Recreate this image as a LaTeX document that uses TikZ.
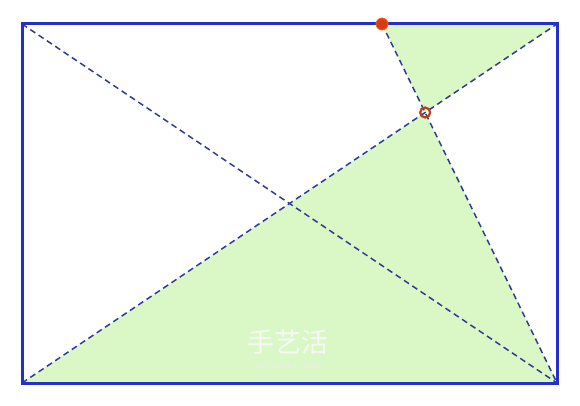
\documentclass[tikz,border=0pt]{standalone}
\usepackage{fontspec}
\newfontfamily\cjk{Noto Sans CJK SC}
\usetikzlibrary{intersections}
\definecolor{frameblue}{HTML}{2430C8}
\definecolor{dashblue}{HTML}{2E3C96}
\definecolor{lightgreen}{HTML}{DAF8C6}
\definecolor{dotred}{HTML}{D83A14}
\definecolor{ringred}{HTML}{B8401C}
\tikzset{
  frame/.style={draw=frameblue, line width=3pt},
  diag/.style={draw=dashblue, line width=1.5pt, dash pattern=on 6pt off 4pt},
  region/.style={fill=lightgreen},
  reddot/.style={circle, fill=dotred, draw=orange!80!red, line width=0.8pt, inner sep=0pt, minimum size=12pt},
  ring/.style={circle, draw=ringred, line width=2.2pt, inner sep=0pt, minimum size=10pt, fill=none},
}
\begin{document}
\begin{tikzpicture}[x=1pt,y=-1pt]
\useasboundingbox (0,0) rectangle (580,406);
\fill[white] (0,0) rectangle (580,406);
\coordinate (TL) at (22,24);
\coordinate (TR) at (557,24);
\coordinate (BL) at (22,383);
\coordinate (BR) at (557,383);
\coordinate (E) at (382,24);
\path[name path=da] (BL) -- (TR);
\path[name path=db] (E) -- (BR);
\path[name intersections={of=da and db, by=P}];
\fill[region] (E) -- (TR) -- (P) -- cycle;
\fill[region] (BL) -- (BR) -- (P) -- cycle;
\node[font=\cjk\fontsize{27}{27}\selectfont, text=white!94!gray] (w1) at (288,342) {手艺活};
\node[font=\sffamily\fontsize{7.5}{7.5}\selectfont, text=white!85!gray] (w2) at (288,366) {SHOUYIHUO.COM};
\draw[diag] (TL) -- (BR);
\draw[diag] (BL) -- (TR);
\draw[diag] (E) -- (BR);
\draw[frame] (TL) rectangle (BR);
\node[reddot] (red) at (E) {};
\node[ring] (cross) at (P) {};
\end{tikzpicture}
\end{document}
